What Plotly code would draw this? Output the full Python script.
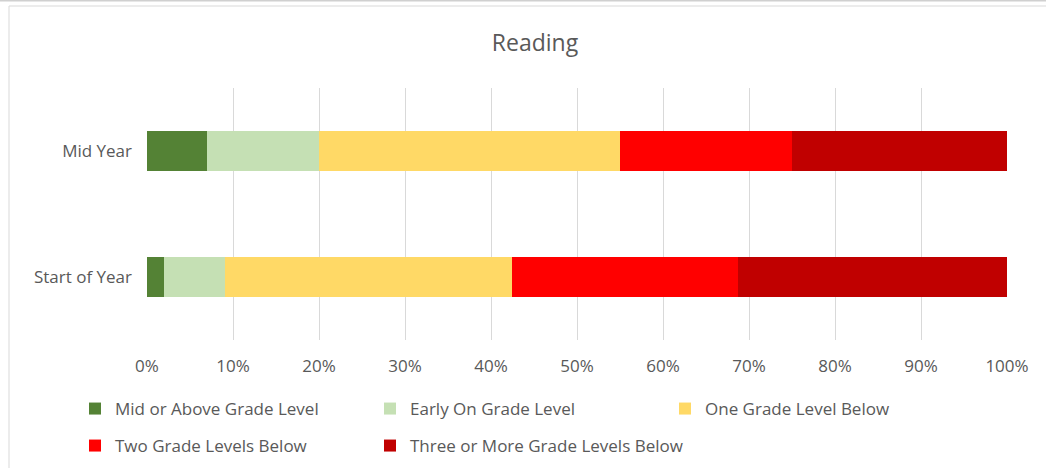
import plotly.graph_objects as go

categories = ["Start of Year", "Mid Year"]
series_names = [
    "Mid or Above Grade Level",
    "Early On Grade Level",
    "One Grade Level Below",
    "Two Grade Levels Below",
    "Three or More Grade Levels Below",
]
# percent values for [Start of Year, Mid Year]
mid_or_above = [2.0, 7.0]
early_on = [7.1, 13.0]
one_below = [33.3, 35.0]
two_below = [26.3, 20.0]
three_more = [31.3, 25.0]
series_values = [mid_or_above, early_on, one_below, two_below, three_more]
tick_values = list(range(0, 101, 10))
tick_labels = [f"{v}%" for v in tick_values]

colors = ["#548235", "#C5E0B4", "#FFD966", "#FF0000", "#C00000"]
FONT = "Open Sans, Segoe UI, Lato, sans-serif"
GRAY = "#595959"
FS = 17

W, H = 1046, 468
ML, MR, MT, MB = 147, 39, 88, 128
PW, PH = W - ML - MR, H - MT - MB

def px_x(p):
    return (p - ML) / PW

def px_y(p):
    return (H - MB - p) / PH

# legend text start (px) and row centre (px) for each series
legend_pos = [(115, 409), (410, 409), (705, 409), (115, 446), (410, 446)]
legend_keys = ["legend", "legend2", "legend3", "legend4", "legend5"]

fig = go.Figure()
for name, vals, col, key in zip(series_names, series_values, colors, legend_keys):
    fig.add_trace(go.Bar(
        y=categories, x=vals, name=name, orientation="h",
        marker=dict(color=col, line=dict(width=0)),
        legend=key,
    ))

legend_layouts = {}
for key, (tx, ty) in zip(legend_keys, legend_pos):
    legend_layouts[key] = dict(
        orientation="h", x=(tx - 40) / W, xref="container", xanchor="left",
        y=1 - ty / H, yref="container", yanchor="middle",
        itemwidth=30,
        font=dict(family=FONT, size=FS, color=GRAY),
        bgcolor="rgba(0,0,0,0)", borderwidth=0,
    )

fig.update_layout(
    width=W, height=H,
    margin=dict(l=ML, r=MR, t=MT, b=MB),
    barmode="stack", bargap=0.69,
    plot_bgcolor="white", paper_bgcolor="white",
    font=dict(family=FONT, color=GRAY, size=FS),
    title=dict(text="Reading", x=535 / W, xref="container", xanchor="center",
               y=1 - 43 / H, yref="container", yanchor="middle",
               font=dict(family=FONT, size=23, color=GRAY)),
    xaxis=dict(range=[0, 100], tickvals=tick_values, ticktext=tick_labels,
               showgrid=True, gridcolor="#D9D9D9", gridwidth=1,
               zeroline=False, showline=False, ticks="",
               ticklabelstandoff=14, fixedrange=True,
               tickfont=dict(size=FS, color=GRAY)),
    yaxis=dict(categoryorder="array", categoryarray=categories,
               range=[-0.5, 1.5], showgrid=False, zeroline=False,
               showline=False, ticks="", ticklabelstandoff=14,
               fixedrange=True, tickfont=dict(size=FS, color=GRAY)),
    showlegend=True,
    **legend_layouts,
)

# chart frame (Excel chart-area border) and outer window line
fig.add_shape(type="rect", xref="paper", yref="paper",
              x0=px_x(9), x1=px_x(W + 10), y0=px_y(H + 10), y1=px_y(6),
              line=dict(color="#D9D9D9", width=1), layer="below")
fig.add_shape(type="line", xref="paper", yref="paper",
              x0=px_x(0), x1=px_x(W), y0=px_y(0.5), y1=px_y(0.5),
              line=dict(color="#D0D0D0", width=2), layer="below")

fig.write_html(
    "out.html",
    config={"displayModeBar": False},
    post_script="document.body.style.margin='0';document.body.style.overflow='hidden';",
)
